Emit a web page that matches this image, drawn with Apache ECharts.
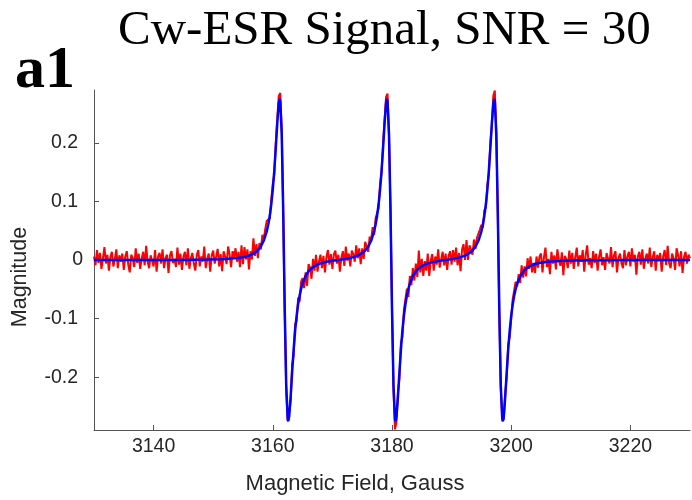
<!DOCTYPE html>
<html>
<head>
<meta charset="utf-8">
<script src="https://cdn.jsdelivr.net/npm/echarts@6/dist/echarts.min.js"></script>
<style>html,body{margin:0;padding:0;background:#fff}#chart{width:692px;height:500px}</style>
</head>
<body>
<div id="chart"></div>
<script>
// ---- data ----
var titleText = 'Cw-ESR Signal, SNR = 30';
var panelLabel = 'a1';
var xAxisTitle = 'Magnetic Field, Gauss';
var yAxisTitle = 'Magnitude';
var xTickValues = [3140, 3160, 3180, 3200, 3220];
var yTickValues = [-0.2, -0.1, 0, 0.1, 0.2];
var xRange = [3130, 3230];
var yRange = [-0.29, 0.29];

// noisy measured signal, sampled every 0.25 G starting at 3130 G
var redFieldStart = 3130;
var redFieldStep = 0.25;
var redMagnitude = [
 0.006,-0.009,0.017,-0.005,0.012,-0.015,0.003,0.022,-0.006,0.009,-0.018,0.005,0.014,-0.011,0.002,0.018,-0.014,0.008,-0.003,0.011,
 -0.017,0.006,0.015,-0.008,-0.021,0.009,0.003,-0.012,0.020,-0.005,0.011,-0.015,0.002,0.014,-0.009,0.024,-0.003,-0.014,0.008,0.005,
 -0.011,0.017,-0.020,0.006,0.012,-0.006,0.018,-0.014,0.003,0.009,-0.022,0.008,0.015,-0.005,0.002,-0.012,0.021,-0.008,0.011,-0.017,
 0.005,0.014,-0.009,0.020,-0.015,0.003,0.012,-0.006,-0.018,0.009,0.017,-0.011,0.006,-0.003,0.023,-0.014,0.002,0.011,-0.020,0.008,
 0.016,-0.006,0.006,0.019,-0.011,0.010,-0.019,0.015,0.006,-0.007,0.023,0.009,-0.012,0.015,0.005,0.020,-0.003,0.014,-0.012,0.025,
 -0.007,0.022,0.001,0.018,-0.016,0.015,0.001,0.037,0.007,0.027,0.003,0.029,0.018,0.043,0.036,0.054,0.067,0.067,0.071,0.104,
 0.130,0.146,0.200,0.241,0.280,0.285,0.222,0.075,-0.090,-0.222,-0.275,-0.262,-0.240,-0.178,-0.163,-0.109,-0.105,-0.064,-0.071,-0.037,
 -0.031,-0.048,-0.021,-0.044,-0.007,-0.013,-0.032,0.002,-0.018,0.009,-0.020,-0.002,0.009,-0.014,0.007,-0.021,0.005,0.017,-0.008,0.010,
 -0.015,0.010,0.016,-0.006,0.009,-0.020,0.004,0.015,-0.010,0.023,-0.001,0.011,-0.011,0.016,0.010,-0.003,0.025,0.003,0.020,-0.007,
 0.020,0.002,0.031,0.023,0.014,0.040,0.034,0.056,0.043,0.071,0.080,0.088,0.130,0.149,0.198,0.238,0.278,0.284,0.211,0.087,
 -0.079,-0.222,-0.289,-0.276,-0.226,-0.203,-0.141,-0.131,-0.085,-0.088,-0.049,-0.063,-0.027,-0.043,-0.014,-0.035,-0.006,-0.029,0.016,-0.021,
 0.002,-0.027,-0.002,-0.018,0.011,-0.027,-0.001,0.010,-0.018,0.006,-0.008,0.018,-0.013,0.001,0.014,-0.009,0.011,-0.017,0.007,0.015,
 -0.008,0.017,-0.003,0.021,-0.009,0.012,-0.019,0.018,0.027,0.000,0.034,0.000,0.025,0.018,0.009,0.035,0.019,0.038,0.040,0.052,
 0.060,0.055,0.085,0.089,0.128,0.146,0.200,0.228,0.280,0.289,0.221,0.076,-0.089,-0.219,-0.268,-0.273,-0.227,-0.199,-0.144,-0.132,
 -0.101,-0.067,-0.068,-0.037,-0.045,-0.024,-0.039,-0.009,-0.030,-0.011,-0.028,0.003,-0.015,0.006,-0.021,-0.005,-0.022,0.006,-0.013,0.006,
 0.011,-0.021,0.005,0.021,-0.012,0.002,-0.024,0.014,-0.006,0.008,-0.016,0.018,0.000,-0.010,0.013,-0.026,0.007,0.001,-0.014,0.016,
 -0.006,0.012,-0.015,0.005,0.021,-0.011,0.008,-0.003,0.017,-0.020,0.009,0.025,-0.008,0.003,-0.014,0.015,-0.005,0.011,-0.018,0.006,
 0.018,-0.009,0.005,-0.017,0.012,0.002,-0.006,0.022,-0.012,0.008,0.015,-0.021,0.003,0.011,-0.005,-0.014,0.017,-0.009,0.006,0.014,
 -0.011,0.020,-0.003,0.009,-0.025,0.006,0.014,-0.008,0.018,-0.015,0.002,0.011,-0.006,0.021,-0.012,0.005,0.015,-0.018,0.009,-0.002,
 0.012,-0.020,0.006,0.017,-0.009,0.024,-0.005,-0.014,0.011,0.003,-0.017,0.020,0.008,-0.011,0.015,-0.022,0.005,0.014,-0.006,0.009,
 0.003
];

// fitted (clean) signal: [field, magnitude]
var blueSignal = [
 [3130,0.0000],[3135,0.0000],[3140,0.0000],[3144,0.0000],[3147,0.0005],[3149,0.0008],[3151,0.0013],[3152,0.0017],[3153,0.0024],[3154,0.0034],
 [3155,0.0049],[3155.5,0.0059],[3156,0.0076],[3156.5,0.0097],[3157,0.0127],[3157.5,0.0170],[3158,0.0234],[3158.5,0.0334],[3159,0.0493],[3159.25,0.0609],
 [3159.5,0.0758],[3159.75,0.0953],[3160,0.1204],[3160.25,0.1523],[3160.5,0.1909],[3160.75,0.2328],[3161,0.2672],[3161.155,0.2752],[3161.25,0.2711],[3161.5,0.2140],
 [3161.75,0.0831],[3162,-0.0827],[3162.25,-0.2136],[3162.5,-0.2707],[3162.595,-0.2748],[3162.75,-0.2668],[3163,-0.2324],[3163.25,-0.1905],[3163.5,-0.1519],[3163.75,-0.1200],
 [3164,-0.0949],[3164.25,-0.0754],[3164.5,-0.0605],[3164.75,-0.0489],[3165,-0.0398],[3165.5,-0.0272],[3166,-0.0192],[3166.5,-0.0139],[3167,-0.0103],[3167.5,-0.0076],
 [3168,-0.0057],[3169,-0.0031],[3170,-0.0014],[3171,0.0000],[3172,0.0015],[3173,0.0036],[3173.5,0.0049],[3174,0.0066],[3174.5,0.0089],[3175,0.0120],
 [3175.5,0.0163],[3176,0.0228],[3176.5,0.0328],[3177,0.0489],[3177.25,0.0607],[3177.5,0.0756],[3177.75,0.0951],[3178,0.1202],[3178.25,0.1521],[3178.5,0.1907],
 [3178.75,0.2326],[3179,0.2670],[3179.155,0.2750],[3179.25,0.2709],[3179.5,0.2138],[3179.75,0.0829],[3180,-0.0830],[3180.25,-0.2139],[3180.5,-0.2710],[3180.595,-0.2751],
 [3180.75,-0.2671],[3181,-0.2327],[3181.25,-0.1908],[3181.5,-0.1521],[3181.75,-0.1201],[3182,-0.0950],[3182.25,-0.0755],[3182.5,-0.0606],[3182.75,-0.0490],[3183,-0.0400],
 [3183.5,-0.0273],[3184,-0.0193],[3184.5,-0.0140],[3185,-0.0104],[3185.5,-0.0077],[3186,-0.0058],[3187,-0.0032],[3188,-0.0015],[3189,-0.0001],[3190,0.0015],
 [3191,0.0036],[3191.5,0.0049],[3192,0.0066],[3192.5,0.0089],[3193,0.0120],[3193.5,0.0163],[3194,0.0228],[3194.5,0.0328],[3195,0.0490],[3195.25,0.0607],
 [3195.5,0.0756],[3195.75,0.0951],[3196,0.1202],[3196.25,0.1521],[3196.5,0.1907],[3196.75,0.2326],[3197,0.2670],[3197.155,0.2750],[3197.25,0.2709],[3197.5,0.2138],
 [3197.75,0.0828],[3198,-0.0832],[3198.25,-0.2141],[3198.5,-0.2712],[3198.595,-0.2753],[3198.75,-0.2673],[3199,-0.2329],[3199.25,-0.1910],[3199.5,-0.1524],[3199.75,-0.1205],
 [3200,-0.0954],[3200.25,-0.0759],[3200.5,-0.0610],[3200.75,-0.0494],[3201,-0.0405],[3201.5,-0.0279],[3202,-0.0200],[3202.5,-0.0147],[3203,-0.0112],[3203.5,-0.0086],
 [3204,-0.0068],[3205,-0.0045],[3206,-0.0031],[3207,-0.0023],[3208,-0.0017],[3210,-0.0010],[3213,-0.0005],[3216,-0.0003],[3220,-0.0001],[3230,0.0000]
];

// ---- chart ----
var redData = redMagnitude.map(function (v, i) { return [redFieldStart + i * redFieldStep, v]; });
var chart = echarts.init(document.getElementById('chart'), null, { renderer: 'canvas' });
var axisColor = '#555555';
var textColor = '#262626';
var sans = '"Liberation Sans", Arial, sans-serif';
chart.setOption({
  animation: false,
  backgroundColor: '#ffffff',
  grid: { left: 94, right: 2, top: 90, bottom: 70, containLabel: false },
  xAxis: {
    type: 'value', min: xRange[0], max: xRange[1],
    axisLine: { show: true, onZero: false, lineStyle: { color: axisColor, width: 1 } },
    axisTick: { show: true, inside: true, length: 5, customValues: xTickValues, lineStyle: { color: axisColor } },
    axisLabel: { customValues: xTickValues, color: textColor, fontSize: 19.5, fontFamily: sans, margin: 7,
      formatter: function (v) { return String(v); } },
    splitLine: { show: false }
  },
  yAxis: {
    type: 'value', min: yRange[0], max: yRange[1],
    axisLine: { show: true, onZero: false, lineStyle: { color: axisColor, width: 1 } },
    axisTick: { show: true, inside: true, length: 5, customValues: yTickValues, lineStyle: { color: axisColor } },
    axisLabel: { customValues: yTickValues, color: textColor, fontSize: 19.5, fontFamily: sans, margin: 11,
      formatter: function (v) {
        var s = String(Math.round(v * 10) / 10);
        return s === '0' ? '{z|' + s + '}' : '{n|' + s + '}';
      },
      rich: {
        z: { fontSize: 19.5, fontFamily: sans, color: textColor },
        n: { fontSize: 19.5, fontFamily: sans, color: textColor, padding: [0, 5, 0, 0] }
      } },
    splitLine: { show: false }
  },
  series: [
    { type: 'line', data: redData, showSymbol: false, symbol: 'none', lineStyle: { color: '#ff0000', width: 2 }, z: 2 },
    { type: 'line', data: blueSignal, showSymbol: false, symbol: 'none', lineStyle: { color: '#0000ff', width: 2.5 }, z: 3 }
  ],
  graphic: [
    { type: 'text', x: 118, y: 31, style: { text: titleText, font: '49px "Liberation Serif", serif', fill: '#000', textAlign: 'left', textVerticalAlign: 'middle' } },
    { type: 'text', x: 15, y: 71, style: { text: panelLabel, font: 'bold 60px "Liberation Serif", serif', fill: '#000', textAlign: 'left', textVerticalAlign: 'middle' } },
    { type: 'text', x: 20, y: 277, rotation: Math.PI / 2, style: { text: yAxisTitle, font: '21.5px ' + sans, fill: textColor, textAlign: 'center', textVerticalAlign: 'middle' } },
    { type: 'text', x: 355, y: 484, style: { text: xAxisTitle, font: '22px ' + sans, fill: textColor, textAlign: 'center', textVerticalAlign: 'middle' } }
  ]
});
</script>
</body>
</html>
